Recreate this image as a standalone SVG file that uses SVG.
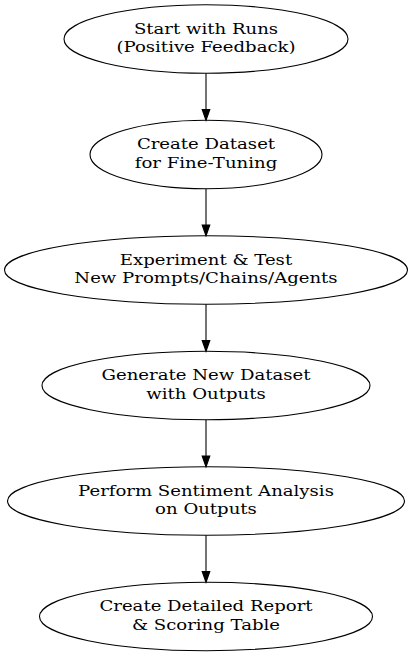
<svg xmlns="http://www.w3.org/2000/svg" width="412" height="658" viewBox="0 0 412 658">
<defs>
<style>
.node ellipse{fill:none;stroke:#000;stroke-width:1.1}
.node text{font-family:"DejaVu Serif","Liberation Serif",serif;font-size:15.6px;fill:#000;text-anchor:middle}
.lbl{transform:translateX(206px) scaleX(1.16)}
.edge line{stroke:#000;stroke-width:1.1}
.edge polygon{fill:#000;stroke:#000;stroke-width:1.1}
</style>
</defs>
<rect width="412" height="658" fill="#fff"/>
<g id="connectors">
<g class="edge"><line x1="206" y1="73.3" x2="206" y2="109.5"/><polygon points="202.2,109.5 209.8,109.5 206,120.3"/></g>
<g class="edge"><line x1="206" y1="188.8" x2="206" y2="225"/><polygon points="202.2,225 209.8,225 206,235.8"/></g>
<g class="edge"><line x1="206" y1="304.3" x2="206" y2="340.5"/><polygon points="202.2,340.5 209.8,340.5 206,351.3"/></g>
<g class="edge"><line x1="206" y1="419.8" x2="206" y2="456"/><polygon points="202.2,456 209.8,456 206,466.8"/></g>
<g class="edge"><line x1="206" y1="535.3" x2="206" y2="571.5"/><polygon points="202.2,571.5 209.8,571.5 206,582.3"/></g>
</g>
<g id="n1" class="node"><ellipse cx="206" cy="39" rx="142" ry="34.2"/><g transform="translate(206 0) scale(1.16 1)"><text x="0" y="34">Start with Runs</text><text x="0" y="52.5">(Positive Feedback)</text></g></g>
<g id="n2" class="node"><ellipse cx="206" cy="154.5" rx="116" ry="34.2"/><g transform="translate(206 0) scale(1.16 1)"><text x="0" y="149.5">Create Dataset</text><text x="0" y="168">for Fine-Tuning</text></g></g>
<g id="n3" class="node"><ellipse cx="206" cy="270" rx="201.5" ry="34.2"/><g transform="translate(206 0) scale(1.16 1)"><text x="0" y="265">Experiment &amp; Test</text><text x="0" y="283.5">New Prompts/Chains/Agents</text></g></g>
<g id="n4" class="node"><ellipse cx="206" cy="385.5" rx="164" ry="34.2"/><g transform="translate(206 0) scale(1.16 1)"><text x="0" y="380.5">Generate New Dataset</text><text x="0" y="399">with Outputs</text></g></g>
<g id="n5" class="node"><ellipse cx="206" cy="501" rx="198.5" ry="34.2"/><g transform="translate(206 0) scale(1.16 1)"><text x="0" y="496">Perform Sentiment Analysis</text><text x="0" y="514.5">on Outputs</text></g></g>
<g id="n6" class="node"><ellipse cx="206" cy="616.5" rx="166.5" ry="34.2"/><g transform="translate(206 0) scale(1.16 1)"><text x="0" y="611.5">Create Detailed Report</text><text x="0" y="630">&amp; Scoring Table</text></g></g>
</svg>
